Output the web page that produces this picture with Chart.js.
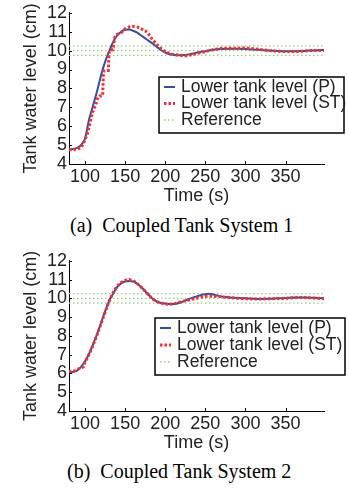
<!DOCTYPE html>
<html>
<head>
<meta charset="utf-8">
<script src="https://cdn.jsdelivr.net/npm/chart.js@4.4.0/dist/chart.umd.min.js"></script>
<style>
  body { margin: 0; background: #fff; width: 349px; height: 494px; position: relative; overflow: hidden; }
  canvas { position: absolute; left: 0; }
  .caption { position: absolute; font-family: "Liberation Serif", "Times New Roman", serif; font-size: 20px; white-space: pre; color: #000; line-height: 24px; }
</style>
</head>
<body>
<canvas id="tank1" width="349" height="207" style="top:0px"></canvas>
<div class="caption" style="left:70px; top:213px">(a)  Coupled Tank System 1</div>
<canvas id="tank2" width="349" height="206" style="top:248px"></canvas>
<div class="caption" style="left:67px; top:459px">(b)  Coupled Tank System 2</div>
<script>
// ticks
const xTicks = [100, 150, 200, 250, 300, 350];
const yTicks = [4, 5, 6, 7, 8, 9, 10, 11, 12];
const refLevels = [10.25, 10, 9.75];
const refSpan = [80, 398];

// system 1
const t1P = [80,90,95,100,105,110,115,120,125,130,135,140,145,150,155,160,165,170,175,180,185,190,195,200,205,210,215,220,225,230,235,240,250,260,270,280,290,300,310,320,330,340,350,360,370,380,390,398];
const v1P = [4.75,4.85,5.0,5.35,6.35,7.1,7.85,8.7,9.4,9.95,10.45,10.8,11.0,11.1,11.12,11.05,10.95,10.8,10.65,10.5,10.35,10.18,10.02,9.9,9.82,9.78,9.76,9.75,9.77,9.8,9.85,9.9,9.97,10.04,10.08,10.1,10.1,10.08,10.06,10.03,10.0,9.98,9.97,9.97,9.98,10.0,10.02,10.03];
const t1S = [80,85,90,95,98,100,103,105,108,110,113,116,118,120,122,123,126,129,130,132,135,137,140,145,150,155,160,165,170,175,178,182,185,190,195,200,205,210,220,225,230,240,250,260,270,280,290,300,310,320,330,340,350,360,370,380,390,398];
const v1S = [4.75,4.75,4.8,4.85,5.1,5.3,5.6,5.95,6.5,6.8,7.1,7.5,7.6,7.6,7.62,8.9,8.95,8.95,9.9,10.05,10.05,10.7,10.85,10.95,11.15,11.25,11.28,11.25,11.15,11.05,10.95,10.7,10.55,10.3,10.1,9.95,9.85,9.8,9.75,9.72,9.75,9.85,9.95,10.05,10.12,10.13,10.12,10.15,10.1,10.05,10.0,9.97,9.95,9.95,9.97,10.0,10.0,10.0];

// system 2
const t2P = [80,85,90,95,100,105,110,115,120,125,130,135,140,145,150,155,160,165,170,175,180,185,190,195,200,205,210,215,220,225,230,235,240,245,250,255,260,265,270,280,290,300,310,320,330,340,350,360,370,380,390,398];
const v2P = [6.05,6.08,6.15,6.35,6.65,7.05,7.55,8.1,8.7,9.3,9.85,10.25,10.6,10.8,10.9,10.92,10.9,10.78,10.6,10.38,10.15,9.95,9.82,9.75,9.72,9.7,9.7,9.73,9.8,9.88,9.97,10.05,10.12,10.18,10.22,10.24,10.2,10.15,10.1,10.05,10.02,10.0,9.98,9.97,9.98,10.0,10.02,10.04,10.05,10.03,10.02,10.0];
const t2S = [80,88,92,98,100,105,110,115,120,125,130,135,140,145,150,155,160,165,170,175,180,185,190,195,200,205,210,215,220,230,240,250,260,270,280,290,300,310,320,330,340,350,360,370,380,390,398];
const v2S = [6.1,6.15,6.25,6.35,6.6,7.0,7.5,8.05,8.65,9.25,9.85,10.3,10.65,10.85,10.95,11.0,10.95,10.8,10.6,10.38,10.15,9.95,9.82,9.75,9.7,9.68,9.7,9.75,9.82,9.92,10.02,10.1,10.12,10.08,10.05,10.0,9.98,9.97,9.97,9.98,9.99,10.0,10.03,10.05,10.03,10.0,9.98];

const pts = (t, v) => t.map((x, i) => ({ x: x, y: v[i] }));
const axisFont = { family: "'Liberation Sans', Arial, sans-serif", size: 18 };

// matlab style ticks pointing into the plot
const innerTicks = {
  id: "innerTicks",
  afterDraw(chart) {
    const { ctx, chartArea, scales } = chart;
    ctx.save();
    ctx.strokeStyle = "#000";
    ctx.lineWidth = 1;
    ctx.beginPath();
    scales.x.ticks.forEach((t) => {
      const px = Math.round(scales.x.getPixelForValue(t.value)) + 0.5;
      ctx.moveTo(px, chartArea.bottom);
      ctx.lineTo(px, chartArea.bottom - 3);
    });
    scales.y.ticks.forEach((t) => {
      const py = Math.round(scales.y.getPixelForValue(t.value)) + 0.5;
      ctx.moveTo(chartArea.left, py);
      ctx.lineTo(chartArea.left + 3, py);
    });
    ctx.stroke();
    ctx.restore();
  },
};

// boxed legend placed over the plot
const boxLegend = {
  id: "boxLegend",
  afterDraw(chart, args, opts) {
    const ctx = chart.ctx;
    const items = chart.data.datasets.filter((ds) => ds.label);
    ctx.save();
    ctx.fillStyle = "#fff";
    ctx.fillRect(opts.left, opts.top, opts.width, opts.height);
    ctx.strokeStyle = "#000";
    ctx.lineWidth = 1.5;
    ctx.strokeRect(opts.left, opts.top, opts.width, opts.height);
    ctx.font = "17.5px 'Liberation Sans', Arial, sans-serif";
    ctx.textBaseline = "middle";
    items.forEach((ds, i) => {
      const y = opts.top + opts.first + i * opts.row;
      ctx.strokeStyle = ds.borderColor;
      ctx.lineWidth = ds.borderWidth;
      ctx.setLineDash(ds.borderDash || []);
      ctx.beginPath();
      ctx.moveTo(opts.left + 5, y);
      ctx.lineTo(opts.left + 16, y);
      ctx.stroke();
      ctx.setLineDash([]);
      ctx.fillStyle = "#222";
      ctx.fillText(ds.label, opts.left + 22, y);
    });
    ctx.restore();
  },
};

function makeChart(id, tP, vP, tS, vS, legendBox) {
  const refSets = refLevels.map((lvl, i) => ({
    label: i === 0 ? "Reference" : "",
    data: refSpan.map((x) => ({ x: x, y: lvl })),
    borderColor: "#8fd27a",
    borderWidth: 1.3,
    borderDash: [1.5, 2.5],
    pointRadius: 0,
    order: 3,
  }));
  return new Chart(document.getElementById(id).getContext("2d"), {
    type: "line",
    data: {
      datasets: [
        {
          label: "Lower tank level (P)",
          data: pts(tP, vP),
          borderColor: "#3050a8",
          borderWidth: 2,
          pointRadius: 0,
          cubicInterpolationMode: "monotone",
          order: 2,
        },
        {
          label: "Lower tank level (ST)",
          data: pts(tS, vS),
          borderColor: "#ff2a2a",
          borderWidth: 3,
          borderDash: [2.5, 2],
          pointRadius: 0,
          tension: 0,
          order: 1,
        },
      ].concat(refSets),
    },
    options: {
      responsive: false,
      animation: false,
      layout: { padding: { top: 12, right: 25, left: 0, bottom: 0 } },
      plugins: {
        legend: { display: false },
        tooltip: { enabled: false },
        boxLegend: legendBox,
      },
      scales: {
        x: {
          type: "linear",
          min: 80,
          max: 398,
          afterBuildTicks: (s) => { s.ticks = xTicks.map((v) => ({ value: v })); },
          afterFit: (s) => { s.height = 43; },
          grid: { drawOnChartArea: false, drawTicks: false },
          border: { color: "#000", width: 1 },
          ticks: { color: "#222", padding: 2, autoSkip: false, maxRotation: 0, font: axisFont },
          title: { display: true, text: "Time (s)", color: "#222", padding: 0, font: axisFont },
        },
        y: {
          min: 4,
          max: 12,
          afterBuildTicks: (s) => { s.ticks = yTicks.map((v) => ({ value: v })); },
          afterFit: (s) => { s.width = 69; },
          grid: { drawOnChartArea: false, drawTicks: false },
          border: { color: "#000", width: 1 },
          ticks: { color: "#222", padding: 2, autoSkip: false, font: axisFont },
          title: { display: true, text: "Tank water level (cm)", color: "#222", padding: { top: 20, bottom: 0 }, font: axisFont },
        },
      },
    },
    plugins: [innerTicks, boxLegend],
  });
}

document.addEventListener("DOMContentLoaded", function () {
  makeChart("tank1", t1P, v1P, t1S, v1S, { left: 159, top: 77, width: 185, height: 56, first: 10, row: 16.5 });
  makeChart("tank2", t2P, v2P, t2S, v2S, { left: 155, top: 70, width: 190, height: 57, first: 10, row: 17 });
});
</script>
</body>
</html>
